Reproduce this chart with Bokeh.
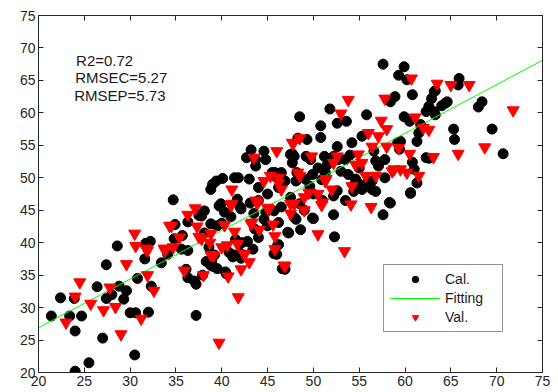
from bokeh.plotting import figure
from bokeh.models import (Range1d, FixedTicker, LinearAxis, Legend, LegendItem,
                          Label, ColumnDataSource, CustomJSTickFormatter)
from bokeh.embed import file_html
from bokeh.resources import INLINE

# ---------------- data ----------------
cal_x = [21.4, 22.4, 23.4, 23.9, 24.0, 24.0, 24.7, 25.5, 26.4, 27.0, 27.4, 27.4, 28.0, 28.6, 28.8,
         29.3, 29.6, 30.0, 30.6, 30.5, 30.8, 31.6, 31.7, 32.2, 32.0, 32.3, 33.4, 34.1, 34.7, 34.9,
         35.6, 36.1, 36.3, 37.0, 37.2, 37.2, 37.8, 38.1, 38.9, 39.1, 39.8, 40.0, 40.5, 42.2, 42.0,
         43.1, 43.6, 44.6, 45.0, 34.8, 35.7, 36.3, 38.6, 39.2, 38.8, 39.5, 36.3, 37.5, 38.8, 39.5,
         39.7, 40.3, 40.4, 46.1, 45.7, 47.2, 46.6, 38.3, 37.9, 41.4, 42.1, 40.8, 41.2, 41.5, 42.8,
         43.4, 44.0, 41.0, 42.0, 43.5, 44.0,
         39.0, 39.4, 40.1, 41.4, 41.8, 43.0, 42.7, 43.2, 43.7, 44.6, 44.8, 45.8, 43.7, 38.8, 39.9,
         41.7, 42.1, 38.1, 44.8, 45.7, 47.9, 45.5, 46.5, 47.5, 47.7, 48.3,
         57.6, 59.9, 59.3, 60.2, 65.9, 65.8, 63.3, 62.9, 60.8, 58.9, 58.4, 64.4, 64.0, 68.4, 68.0,
         62.6, 63.1, 63.3, 51.8, 55.8, 48.5, 53.6, 52.6, 50.8, 50.8, 49.3, 59.9, 60.5, 61.7, 61.5,
         61.3, 65.3, 65.4, 69.5, 70.7, 62.6, 60.8, 47.7, 49.2, 52.6, 52.2, 52.7, 54.2, 55.3, 56.6,
         57.8, 59.5, 61.0, 61.3, 60.6, 56.8, 57.1, 57.8, 56.4, 55.7, 56.4, 54.6, 54.4, 53.8, 53.5,
         51.3, 50.9, 49.9, 49.1, 49.6, 48.2, 46.9, 46.2, 45.6, 52.6, 52.2,
         63.2, 62.6, 62.3, 63.2, 64.6, 59.2, 59.4, 62.3,
         60.6, 58.4, 57.6, 52.2, 52.3, 50.0, 48.1, 48.6, 47.3, 46.2, 46.2, 46.0, 46.9, 54.4, 55.3,
         56.8, 58.3, 49.9, 47.9, 49.7, 51.2, 48.1, 54.8,
         50.5, 51.5, 53.0, 54.0, 55.0, 50.0, 51.0, 47.5, 48.5, 53.5, 49.0, 46.5, 44.0, 45.0]
cal_y = [28.7, 31.5, 28.7, 31.4, 26.4, 20.2, 28.7, 21.5, 33.2, 25.3, 36.6, 31.4, 32.0, 39.5, 33.3,
         31.3, 32.6, 29.2, 29.2, 22.7, 34.5, 37.5, 39.9, 40.2, 29.3, 33.3, 36.9, 38.2, 46.6, 42.8,
         39.0, 35.9, 34.6, 34.1, 33.6, 28.8, 44.1, 41.5, 37.2, 36.3, 45.6, 43.0, 35.2, 40.0, 38.4,
         46.1, 42.1, 43.6, 42.6, 40.6, 41.1, 38.8, 39.3, 38.1, 36.5, 36.0, 43.2, 44.2, 42.9, 42.6,
         45.7, 44.7, 35.5, 39.6, 38.3, 41.6, 36.0, 37.1, 35.0, 38.1, 37.6, 38.5, 37.8, 40.5, 40.2,
         39.0, 40.8, 44.0, 45.5, 44.5, 46.5,
         49.0, 49.5, 49.9, 50.0, 50.0, 49.8, 53.1, 54.3, 51.8, 54.1, 52.8, 50.8, 52.8, 48.2, 46.0,
         46.7, 45.2, 44.9, 44.7, 44.9, 43.9, 50.8, 50.8, 53.6, 52.3, 56.1,
         67.5, 67.1, 65.8, 65.1, 65.3, 64.3, 63.4, 62.2, 62.8, 62.5, 61.7, 61.5, 61.1, 61.7, 60.9,
         60.5, 60.2, 59.7, 60.6, 59.7, 59.4, 58.7, 58.4, 58.0, 56.2, 55.9, 59.4, 58.7, 58.2, 56.9,
         55.6, 57.5, 55.9, 57.5, 53.7, 53.0, 52.4, 53.7, 53.3, 54.8, 53.3, 52.8, 55.4, 56.4, 54.1,
         52.8, 55.6, 51.3, 49.2, 47.7, 52.6, 51.8, 50.0, 49.5, 49.0, 48.2, 49.8, 48.8, 50.5, 52.8,
         50.8, 49.7, 50.5, 49.8, 48.7, 50.8, 49.5, 48.5, 50.3, 48.0, 47.2,
         63.3, 61.0, 60.2, 60.0, 61.7, 55.4, 54.4, 53.1,
         47.6, 46.1, 44.3, 44.3, 40.9, 43.7, 43.6, 42.0, 41.5, 43.1, 39.7, 38.2, 35.9, 47.9, 48.2,
         47.9, 46.2, 43.8, 53.3, 52.8, 53.3, 49.5, 49.3,
         51.5, 52.0, 51.0, 53.5, 51.5, 47.5, 46.5, 47.0, 46.0, 46.5, 45.0, 45.5, 48.5, 47.5]

val_x = [23.0, 24.0, 24.5, 25.7, 27.1, 27.8, 28.4, 29.0, 29.6, 30.5, 30.6, 31.2, 31.9, 31.9, 32.6,
         33.8, 34.7, 34.5, 35.4, 35.9, 36.3, 37.1, 37.3, 37.8, 38.0, 38.7, 39.1, 39.7, 40.0, 40.3,
         40.7, 41.1, 41.4, 41.8, 42.1, 42.5, 43.0, 43.3, 43.9, 44.1, 45.1, 45.6, 45.8, 45.8,
         34.3, 31.7, 37.5, 38.8, 33.7, 38.8, 43.2, 40.6, 41.7, 42.4, 46.8,
         43.5, 46.0, 41.1, 44.6, 45.3, 47.7, 46.2, 46.5, 43.7, 47.5, 41.0, 45.0,
         60.7, 63.5, 65.0, 67.0, 53.8, 57.8, 53.0, 71.8, 57.4, 58.0, 61.1, 62.0, 62.6, 56.0, 57.1,
         68.7, 65.8, 63.1, 48.5, 47.8, 49.8, 52.2, 52.6, 54.9, 56.4, 58.0, 59.3, 60.5, 54.6, 55.3,
         58.8, 59.5, 60.2, 61.5, 55.7, 56.8, 48.5, 46.2, 51.3, 54.2, 49.5, 52.0,
         54.1, 56.3, 50.5, 53.4, 46.9, 47.5, 49.0, 50.9,
         48.3, 58.6, 51.4, 50.5, 49.0, 47.9, 51.0]
val_y = [27.7, 31.7, 33.9, 30.6, 29.6, 33.1, 30.1, 25.9, 36.7, 41.4, 39.5, 28.3, 38.8, 35.0, 32.6,
         38.8, 39.3, 42.6, 40.8, 35.7, 44.3, 45.3, 42.5, 40.6, 35.0, 40.0, 38.0, 24.6, 39.3, 42.7,
         34.8, 46.0, 41.7, 31.6, 35.9, 38.2, 37.0, 43.1, 46.1, 42.0, 45.1, 42.8, 41.0, 39.0,
         42.6, 39.1, 40.9, 41.4, 39.1, 38.1, 42.9, 39.6, 39.8, 38.3, 36.5,
         53.1, 54.1, 48.2, 49.5, 50.3, 55.4, 50.0, 48.2, 46.5, 46.0, 45.7, 45.4,
         65.3, 64.5, 64.3, 64.3, 62.0, 62.2, 59.9, 60.4, 58.8, 57.5, 59.3, 57.7, 57.4, 56.9, 56.4,
         54.7, 53.7, 53.2, 56.1, 55.3, 53.3, 52.3, 53.3, 53.6, 54.8, 54.8, 54.6, 53.7, 52.0, 52.3,
         51.3, 51.3, 50.8, 50.3, 50.3, 50.3, 50.3, 49.2, 49.5, 48.7, 47.7, 48.2,
         45.9, 45.5, 41.3, 38.7, 36.4, 44.5, 45.0, 45.8,
         50.8, 51.0, 49.8, 47.5, 47.0, 46.0, 46.2]

fit_x = [20, 75]
fit_y = [26.9, 68.1]

ticks = [20, 25, 30, 35, 40, 45, 50, 55, 60, 65, 70, 75]
stats_text = ["R2=0.72", "RMSEC=5.27", "RMSEP=5.73"]
stats_x = [24.1, 24.0, 23.9]
stats_y = [68.1, 65.5, 62.6]
legend_labels = ["Cal.", "Fitting", "Val."]

FONT = "Liberation Sans"
AXIS_COLOR = "#262626"

p = figure(frame_width=504, frame_height=357, output_backend="svg", toolbar_location=None,
           x_range=Range1d(20, 75), y_range=Range1d(20, 75),
           min_border_left=38, min_border_right=16, min_border_top=15, min_border_bottom=17)
p.background_fill_color = "white"
p.border_fill_color = "white"
p.xgrid.visible = False
p.ygrid.visible = False
p.outline_line_color = AXIS_COLOR
p.outline_line_width = 1

for ax in (p.xaxis[0], p.yaxis[0]):
    ax.ticker = FixedTicker(ticks=ticks)
    ax.major_tick_in = 5
    ax.major_tick_out = 0
    ax.minor_tick_in = 0
    ax.minor_tick_out = 0
    ax.axis_line_color = AXIS_COLOR
    ax.major_tick_line_color = AXIS_COLOR
    ax.major_label_text_font = FONT
    ax.major_label_text_font_size = "14px"
    ax.major_label_text_color = AXIS_COLOR
    ax.major_label_standoff = 3

for loc in ("above", "right"):
    ax = LinearAxis(ticker=FixedTicker(ticks=ticks),
                    formatter=CustomJSTickFormatter(code="return ''"))
    ax.major_tick_in = 5
    ax.major_tick_out = 0
    ax.minor_tick_in = 0
    ax.minor_tick_out = 0
    ax.axis_line_color = AXIS_COLOR
    ax.major_tick_line_color = AXIS_COLOR
    ax.major_label_text_font_size = "1px"
    ax.major_label_standoff = 0
    p.add_layout(ax, loc)

cal_src = ColumnDataSource(dict(x=cal_x, y=cal_y))
val_src = ColumnDataSource(dict(x=val_x, y=val_y))
fit_src = ColumnDataSource(dict(x=fit_x, y=fit_y))

r_cal = p.scatter("x", "y", source=cal_src, marker="circle", size=10,
                  fill_color="black", line_color="black")
r_fit = p.line("x", "y", source=fit_src, line_color="#00ff00", line_width=1)
r_val = p.scatter("x", "y", source=val_src, marker="inverted_triangle", size=12,
                  fill_color="#ff0000", line_color="#ff0000")

for t, x, y in zip(stats_text, stats_x, stats_y):
    p.add_layout(Label(x=x, y=y, text=t, text_font=FONT, text_font_size="15px",
                       text_color="#1a1a1a", text_baseline="middle", text_align="left"))

legend = Legend(items=[LegendItem(label=legend_labels[0], renderers=[r_cal]),
                       LegendItem(label=legend_labels[1], renderers=[r_fit]),
                       LegendItem(label=legend_labels[2], renderers=[r_val])],
                location=(345, 40))
legend.label_text_font = FONT
legend.label_text_font_size = "14px"
legend.label_text_color = "#1a1a1a"
legend.glyph_width = 50
legend.glyph_height = 16
legend.label_height = 16
legend.label_width = 51
legend.label_standoff = 5
legend.padding = 6
legend.spacing = 3
legend.margin = 0
legend.border_line_color = AXIS_COLOR
legend.border_line_width = 1
legend.background_fill_color = "white"
legend.background_fill_alpha = 1
p.add_layout(legend, "center")

open("out.html", "w").write(file_html(p, INLINE))
